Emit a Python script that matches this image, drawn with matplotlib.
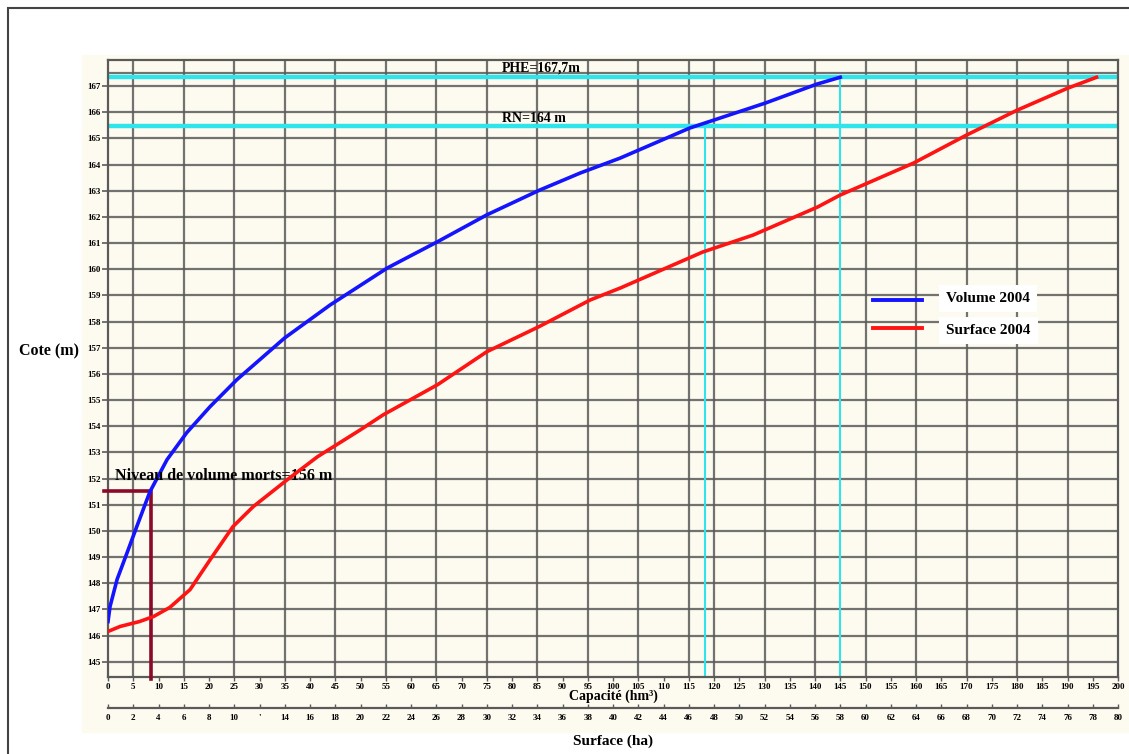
import matplotlib
matplotlib.use("Agg")
import matplotlib.pyplot as plt
from matplotlib.patches import Rectangle
from matplotlib.lines import Line2D

# courbe capacite (hm3) - cote (m)
vol_cap = [0, 0.4, 1.8, 3.8, 5.7, 8.3, 11.7, 15.6, 20.2, 25.5, 35.0, 44.0,
           55.3, 65.2, 75.0, 85.5, 93.5, 101.4, 115.2, 130.1, 140.4, 145.0]
vol_cote = [146.54, 147.11, 148.15, 149.18, 150.17, 151.50, 152.73, 153.76,
            154.75, 155.78, 157.38, 158.64, 160.05, 161.05, 162.08, 163.03,
            163.68, 164.25, 165.40, 166.35, 167.08, 167.34]

# courbe surface (ha) - cote (m)
sur_ha = [0, 0.95, 2.5, 3.6, 4.9, 6.5, 8.1, 9.9, 11.5, 14.2, 16.6, 20.0, 21.8,
          26.1, 30.0, 34.1, 38.2, 40.6, 47.1, 51.1, 56.2, 58.0, 63.8, 68.0,
          72.0, 76.0, 78.3]
sur_cote = [146.16, 146.35, 146.54, 146.73, 147.08, 147.76, 148.91, 150.17,
            150.93, 151.96, 152.84, 153.87, 154.44, 155.59, 156.85, 157.80,
            158.83, 159.29, 160.66, 161.31, 162.38, 162.84, 164.06, 165.13,
            166.08, 166.92, 167.34]

cote_ticks = list(range(145, 168))
cap_ticks = list(range(0, 205, 5))
sur_ticks = list(range(0, 82, 2))
sur_labels = ["'" if v == 12 else str(v) for v in sur_ticks]
cap_grid = [5, 15, 25, 35, 45, 55, 65, 75, 85, 95, 105, 115,
            120, 130, 140, 150, 160, 170, 180, 190]

# niveaux repères (echelle du graphique)
phe_level, phe_cap = 167.34, 145.0
rn_level, rn_cap = 165.47, 118.2
mort_level, mort_cap = 151.54, 8.5

serif = ["Liberation Serif", "DejaVu Serif"]
grid_c = "#5a5a5a"
cyan = "#30e4ec"
cream = "#fdfbef"

fig = plt.figure(figsize=(11.29, 7.54), dpi=100)
fig.patch.set_facecolor("white")
fig.patches.append(Rectangle((8 / 1129, -0.05), 1.1, 1 - 8 / 754 + 0.05,
                             transform=fig.transFigure, fill=False,
                             edgecolor="#444444", lw=1.5, zorder=-5))
fig.patches.append(Rectangle((82 / 1129, 21 / 754), 1.0, 678 / 754,
                             transform=fig.transFigure, facecolor=cream,
                             edgecolor="none", zorder=-5))

ax = fig.add_axes([108 / 1129, 77 / 754, 1010 / 1129, 617 / 754])
ax.set_zorder(2)
ax.set_facecolor(cream)
ax.set_xlim(0, 200)
ax.set_ylim(144.42, 168.0)

for c in cote_ticks + [167.5]:
    ax.axhline(c, color=grid_c, lw=1.6, alpha=0.85, zorder=1)
for g in cap_grid:
    ax.axvline(g, color=grid_c, lw=1.6, alpha=0.85, zorder=1)
for s in ax.spines.values():
    s.set_color(grid_c)
    s.set_linewidth(1.6)

ax.set_yticks(cote_ticks)
ax.set_yticklabels([str(v) for v in cote_ticks], fontsize=6.5,
                   fontweight="bold", family=serif)
ax.set_xticks(cap_ticks)
ax.set_xticklabels([str(v) for v in cap_ticks], fontsize=6.5,
                   fontweight="bold", family=serif)
ax.tick_params(axis="y", length=4, width=1.2, color=grid_c, pad=1.5)
ax.tick_params(axis="x", length=3, width=1.0, color=grid_c, pad=1.5)
ax.set_xlabel("Capacité (hm³)", fontsize=10, fontweight="bold",
              family=serif, labelpad=-1)
ax.set_ylabel("Cote (m)", fontsize=11.5, fontweight="bold", family=serif,
              rotation=0, labelpad=0, va="center")
ax.yaxis.set_label_coords(-0.058, 0.527)

# repères PHE / RN
ax.axhline(phe_level, color=cyan, lw=3.2, zorder=2)
ax.axhline(rn_level, color=cyan, lw=3.2, zorder=2)
ax.vlines(phe_cap, 144.42, phe_level, color=cyan, lw=1.5, zorder=2)
ax.vlines(rn_cap, 144.42, rn_level, color=cyan, lw=1.5, zorder=2)
ax.text(78, 167.69, "PHE=167,7m", fontsize=10, fontweight="bold",
        family=serif, va="center", zorder=5)
ax.text(78, 165.78, "RN=164 m", fontsize=10, fontweight="bold",
        family=serif, va="center", zorder=5)

# volume mort
ax.plot([-0.8, mort_cap, mort_cap], [mort_level, mort_level, 144.35],
        color="#8b0a2a", lw=2.6, clip_on=False, zorder=3)
ax.text(1.4, 152.11, "Niveau de volume morts=156 m", fontsize=11.6,
        fontweight="bold", family=serif, va="center", zorder=5)

ax.plot(vol_cap, vol_cote, color="#1414ff", lw=2.6, zorder=4)

ax2 = ax.twiny()
ax2.set_zorder(3)
ax2.set_xlim(0, 80)
ax2.xaxis.set_ticks_position("bottom")
ax2.xaxis.set_label_position("bottom")
ax2.spines["bottom"].set_position(("outward", 22.3))
for k in ["top", "left", "right"]:
    ax2.spines[k].set_visible(False)
ax2.spines["bottom"].set_color(grid_c)
ax2.spines["bottom"].set_linewidth(1.6)
ax2.set_xticks(sur_ticks)
ax2.set_xticklabels(sur_labels, fontsize=6.5, fontweight="bold", family=serif)
ax2.tick_params(axis="x", direction="in", length=3, width=1.0,
                color=grid_c, pad=4)
ax2.set_xlabel("Surface (ha)", fontsize=11, fontweight="bold",
               family=serif, labelpad=9)
ax2.plot(sur_ha, sur_cote, color="#ff1414", lw=2.6, zorder=4)

# legende
ax2.add_line(Line2D([0.757, 0.806], [0.611, 0.611], color="#1414ff", lw=2.8,
                    transform=ax2.transAxes, zorder=6))
ax2.add_line(Line2D([0.757, 0.806], [0.566, 0.566], color="#ff1414", lw=2.8,
                    transform=ax2.transAxes, zorder=6))
ax2.text(0.830, 0.614, "Volume 2004", transform=ax2.transAxes, fontsize=11,
         fontweight="bold", family=serif, va="center", zorder=6,
         bbox=dict(facecolor="white", edgecolor="none", pad=5))
ax2.text(0.830, 0.561, "Surface 2004", transform=ax2.transAxes, fontsize=11,
         fontweight="bold", family=serif, va="center", zorder=6,
         bbox=dict(facecolor="white", edgecolor="none", pad=5))

fig.savefig("out.png", dpi=100)
